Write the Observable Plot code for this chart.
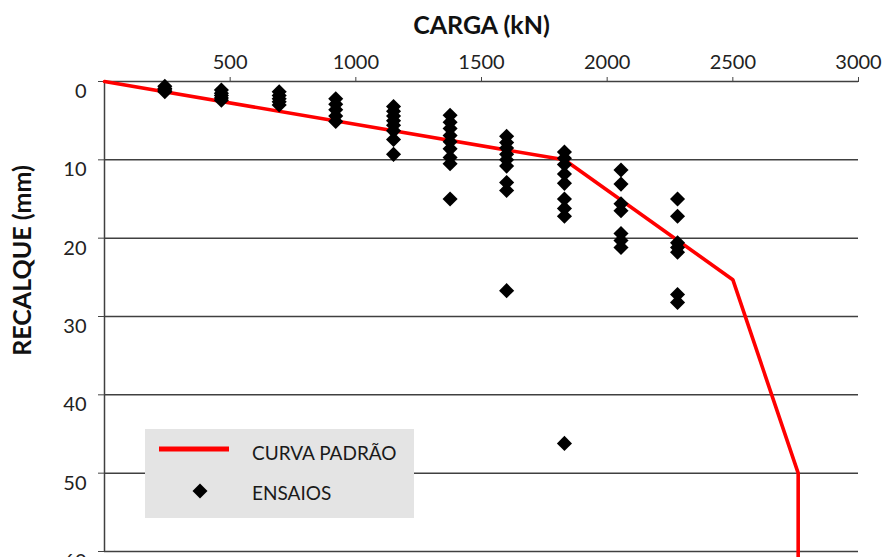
<!DOCTYPE html>
<html><head><meta charset="utf-8">
<script src="https://cdn.jsdelivr.net/npm/d3@7"></script>
<script src="https://cdn.jsdelivr.net/npm/@observablehq/plot@0.6"></script>
<style>
body{margin:0;background:#fff;font-family:Lato, sans-serif;}
#wrap{position:relative;width:884px;height:557px;overflow:hidden;background:#fff;}
#legend{position:absolute;left:145px;top:429px;width:269px;height:89px;background:#e4e4e4;color:#1a1a1a;font-size:19px;}
#legend svg{position:absolute;left:0;top:0;}
#legend span{position:absolute;left:107px;line-height:20px;white-space:nowrap;}
</style></head>
<body><div id="wrap"></div>
<script>
// Cargas dos ensaios (kN) e recalques medidos (mm) em cada estágio
const cargaEnsaios = [240, 465, 695, 920, 1150, 1375, 1600, 1830, 2055, 2280];
const recalqueEnsaios = [
  [0.6, 0.9, 1.1, 1.3],
  [1.1, 1.5, 1.8, 2.1, 2.4],
  [1.3, 1.8, 2.2, 2.6, 3.0],
  [2.2, 2.9, 3.6, 4.4, 5.1],
  [3.2, 3.8, 4.4, 5.0, 5.6, 6.3, 7.4, 9.3],
  [4.3, 5.2, 6.0, 6.9, 7.7, 8.6, 9.7, 10.5, 15.0],
  [7.0, 7.8, 8.5, 9.3, 10.0, 10.8, 12.9, 13.9, 26.7],
  [9.0, 9.8, 10.6, 11.8, 13.0, 15.0, 16.2, 17.2, 46.2],
  [11.3, 13.1, 15.6, 16.5, 19.4, 20.3, 21.2],
  [15.0, 17.2, 20.6, 21.2, 21.8, 27.2, 28.2]
];
// Curva padrão
const curvaCarga = [0, 1830, 2500, 2760, 2760];
const curvaRecalque = [0, 10, 25.3, 50, 61];
// Ticks
const xTicks = [500, 1000, 1500, 2000, 2500, 3000];
const yTicks = [0, 10, 20, 30, 40, 50, 60];

const pontos = cargaEnsaios.flatMap((c, i) => recalqueEnsaios[i].map(r => ({carga: c, recalque: r})));
const curva = curvaCarga.map((c, i) => ({carga: c, recalque: curvaRecalque[i]}));

const chart = Plot.plot({
  width: 884, height: 557,
  marginLeft: 104, marginRight: 26, marginTop: 81, marginBottom: 6,
  style: {fontFamily: "Lato, sans-serif", fontSize: "20px", color: "#222", background: "#fff", overflow: "visible"},
  x: {domain: [0, 3000]},
  y: {domain: [0, 60], reverse: true},
  marks: [
    Plot.ruleY(yTicks, {stroke: "#404040", strokeWidth: 1.5}),
    Plot.ruleX([0], {stroke: "#404040", strokeWidth: 1.5}),
    Plot.axisX({anchor: "top", ticks: xTicks, tickSize: 5, tickPadding: 8, tickFormat: d => String(d), label: null, fontSize: 20, stroke: "#444"}),
    Plot.axisY({ticks: yTicks, tickSize: 6, tickFormat: () => "", label: null, stroke: "#444"}),
    Plot.axisY({ticks: yTicks, tickSize: 0, tickPadding: 18, dy: 10, tickFormat: d => String(d), label: null, fontSize: 20}),
    Plot.line(curva, {x: "carga", y: "recalque", stroke: "#f00", strokeWidth: 3.6}),
    Plot.dot(pontos, {x: "carga", y: "recalque", symbol: "diamond2", r: 6.8, fill: "#000"}),
    Plot.text(["CARGA (kN)"], {frameAnchor: "top", textAnchor: "middle", lineAnchor: "middle", dy: -56, fontSize: 25, fontWeight: "bold", fill: "#111"}),
    Plot.text(["RECALQUE (mm)"], {frameAnchor: "left", textAnchor: "middle", lineAnchor: "middle", dx: -82, dy: -56, rotate: -90, fontSize: 25, fontWeight: "bold", fill: "#111"})
  ]
});
const wrap = document.getElementById("wrap");
wrap.appendChild(chart);

const legend = document.createElement("div");
legend.id = "legend";
legend.innerHTML = `
<svg width="269" height="89">
  <line x1="14" x2="84" y1="20" y2="20" stroke="#f00" stroke-width="5"/>
  <path d="M55,54.5 L62.5,62 L55,69.5 L47.5,62 Z" fill="#000"/>
</svg>
<span style="top:14px">CURVA PADRÃO</span>
<span style="top:54px">ENSAIOS</span>`;
wrap.appendChild(legend);
</script>
</body></html>
